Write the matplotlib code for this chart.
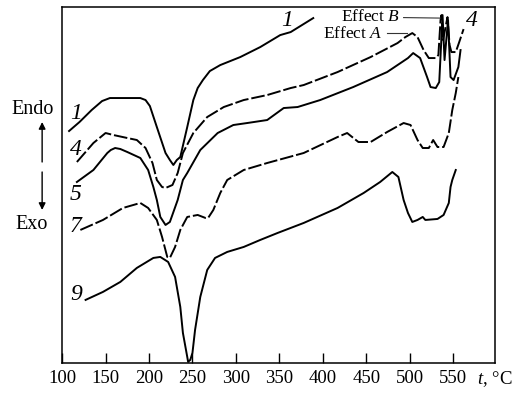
import matplotlib
matplotlib.use("Agg")
import matplotlib.pyplot as plt

plt.rcParams['font.family'] = ['Liberation Serif', 'DejaVu Serif']
plt.rcParams['mathtext.fontset'] = 'custom'
plt.rcParams['mathtext.rm'] = 'Liberation Serif'
plt.rcParams['mathtext.it'] = 'Liberation Serif:italic'

# temperatures (deg C) and signal (arbitrary units)
t1 = [108, 120, 134, 146, 155, 175, 190, 196, 201, 209, 219, 224, 228, 232, 236,
      244, 251, 256, 262, 270, 282, 305, 328, 351, 363, 389]
y1 = [232, 241, 253, 262, 265, 265, 265, 263, 257, 236, 210, 203, 198, 203, 206,
      236, 263, 275, 283, 292, 298, 306, 316, 328, 331, 345]

t4 = [117, 136, 150, 159, 175, 186, 196, 204, 209, 215, 219, 227, 233, 239, 251,
      267, 286, 309, 336, 363, 378, 417, 455, 486, 495, 503, 509, 516, 522, 530,
      533, 535.5, 536.6, 538.4, 543.5, 545.9, 548, 553, 557, 562]
y4 = [201, 220, 230, 228, 225, 223, 215, 200, 183, 176, 175, 178, 190, 210, 230,
      246, 256, 263, 268, 275, 278, 291, 306, 320, 326, 330, 326, 313, 305, 305,
      308, 343, 348, 323, 346, 318, 311, 311, 321, 334]

t5 = [117, 136, 152, 156, 161, 167, 175, 190, 199, 205, 209, 213, 219, 224, 233,
      239, 244, 259, 279, 297, 313, 336, 355, 371, 397, 435, 474, 498, 504, 512,
      520, 524, 530, 534, 537.8, 540.1, 544.1, 547, 550.5, 556, 558.5]
y5 = [181, 193, 210, 213, 215, 214, 211, 205, 193, 176, 163, 146, 138, 141, 163,
      183, 190, 213, 230, 238, 240, 243, 255, 256, 263, 276, 291, 305, 310, 305,
      286, 276, 275, 281, 348, 303, 343, 286, 283, 296, 313]

t7 = [121, 147, 170, 190, 199, 209, 215, 221, 224, 230, 236, 244, 256, 265, 268,
      274, 282, 290, 309, 336, 378, 417, 428, 441, 455, 474, 493, 501, 509, 515,
      522, 527, 532, 539, 545, 549, 553, 556]
y7 = [133, 143, 155, 160, 155, 143, 126, 106, 105, 116, 133, 146, 148, 145, 145,
      153, 170, 183, 193, 200, 210, 226, 230, 221, 221, 231, 240, 238, 223, 215,
      215, 223, 216, 216, 230, 253, 270, 286]

t9 = [127, 147, 167, 186, 205, 213, 222, 230, 236, 239, 244, 245, 247.5, 250, 253,
      259, 267, 276, 290, 309, 328, 348, 378, 417, 447, 466, 480, 487, 493, 498,
      503, 509, 515, 518, 532, 539, 545, 547, 549, 553]
y9 = [63, 71, 81, 95, 105, 106, 101, 86, 56, 30, 6, 1, 3, 10, 33,
      66, 93, 105, 111, 116, 123, 130, 140, 155, 170, 181, 191, 186, 163, 150,
      141, 143, 146, 143, 144, 148, 160, 176, 183, 193]

left_labels = ['1', '4', '5', '7', '9']
left_label_y = [250, 214, 168, 136, 68]
xticks = [100, 150, 200, 250, 300, 350, 400, 450, 500, 550]

fig = plt.figure(figsize=(5.22, 3.94), dpi=100)
ax = fig.add_axes([0.119, 0.079, 0.829, 0.903])

lw = 1.4
dash = (0, (7, 1.5))
ax.plot(t1, y1, color='black', lw=lw, solid_joinstyle='round')
ax.plot(t4, y4, color='black', lw=lw, linestyle=dash)
ax.plot(t5, y5, color='black', lw=lw, solid_joinstyle='round')
ax.plot(t7, y7, color='black', lw=lw, linestyle=dash)
ax.plot(t9, y9, color='black', lw=lw, solid_joinstyle='round')

for lab, yy in zip(left_labels, left_label_y):
    ax.text(116, yy, lab, fontsize=17, style='italic', ha='center', va='center')
ax.text(359, 343, '1', fontsize=17, style='italic', ha='center', va='center')
ax.text(572, 343, '4', fontsize=17, style='italic', ha='center', va='center')

# effect annotations
ax.text(455, 346, r'Effect $\it{B}$', fontsize=12.5, ha='center', va='center')
ax.plot([493, 535], [345.5, 345], color='#333333', lw=0.8)
ax.text(435, 329, r'Effect $\it{A}$', fontsize=12.5, ha='center', va='center')
ax.plot([474, 497], [330, 330], color='#333333', lw=0.8)

# endo / exo
ax.text(66, 254, 'Endo', fontsize=14.5, ha='center', va='center', clip_on=False)
ax.text(65, 138, 'Exo', fontsize=14.5, ha='center', va='center', clip_on=False)
ax.annotate('', xy=(77, 241), xytext=(77, 201), annotation_clip=False,
            arrowprops=dict(arrowstyle='-|>', color='black', lw=1.0,
                            mutation_scale=10, shrinkA=0, shrinkB=0))
ax.annotate('', xy=(77, 153), xytext=(77, 191), annotation_clip=False,
            arrowprops=dict(arrowstyle='-|>', color='black', lw=1.0,
                            mutation_scale=10, shrinkA=0, shrinkB=0))

ax.text(578, -16, r'$\it{t}$, °C', fontsize=13.5, ha='left', va='center', clip_on=False)

ax.set_xlim(100, 598)
ax.set_ylim(0, 356)
ax.set_xticks(xticks)
ax.set_yticks([])
ax.tick_params(axis='x', direction='in', length=7, width=1, labelsize=13.5, pad=5)
for s in ax.spines.values():
    s.set_linewidth(1.1)

fig.savefig('out.png', dpi=100)
